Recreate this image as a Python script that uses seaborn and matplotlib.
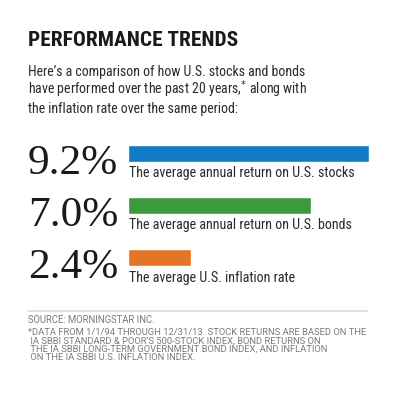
import matplotlib
matplotlib.use('Agg')
import pandas as pd
import seaborn as sns
from matplotlib import pyplot as plt


values = [9.2, 7.0, 2.4]
value_labels = ['9.2%', '7.0%', '2.4%']
series = ['stocks', 'bonds', 'inflation']
descriptions = [
    'The average annual return on U.S. stocks',
    'The average annual return on U.S. bonds',
    'The average U.S. inflation rate',
]
colors = ['#0f7bc4', '#3b9a3c', '#e57526']

title = 'PERFORMANCE TRENDS'
intro = [
    "Here\u2019s a comparison of how U.S. stocks and bonds",
    "have performed over the past 20 years,$^{*}$ along with",
    "the inflation rate over the same period:",
]
source = 'SOURCE: MORNINGSTAR INC.'
footnote = [
    '*DATA FROM 1/1/94 THROUGH 12/31/13. STOCK RETURNS ARE BASED ON THE',
    ' IA SBBI STANDARD & POOR\u2019S 500-STOCK INDEX, BOND RETURNS ON',
    ' THE IA SBBI LONG-TERM GOVERNMENT BOND INDEX, AND INFLATION',
    ' ON THE IA SBBI U.S. INFLATION INDEX.',
]

W, H = 400, 399

sns.set_theme(style='white')
narrow = ['Roboto Condensed', 'Liberation Sans Narrow', 'Liberation Sans', 'DejaVu Sans']
plt.rcParams['font.family'] = narrow
small = ['Roboto', 'Liberation Sans', 'DejaVu Sans']


def fx(x):
    return x / W


def fy(y):
    return 1 - y / H


fig = plt.figure(figsize=(W / 100, H / 100), dpi=100)
fig.patch.set_facecolor('white')

# bars: zero at x=128px, 26.2px per percent, rows 52px apart
ax = fig.add_axes([fx(128), fy(127.5 + 156), 262 / W, 156 / H])
df = pd.DataFrame({'series': series, 'value': values})
sns.barplot(data=df, x='value', y='series', hue='series', palette=colors,
            orient='h', width=0.32, legend=False, ax=ax, saturation=1)
ax.set_xlim(0, 10)
ax.set_ylim(2.5, -0.5)
ax.axis('off')

# groups of texts and the px width their first line has in the reference
fits = []

t = fig.text(fx(28), fy(46), title, fontsize=16, fontweight='bold',
             color='#1a1a1a', va='baseline')
fits.append(([t], 210))

lines = [fig.text(fx(28), fy(76 + i * 18.5), line, fontsize=10.2,
                  color='#2a2a2a', va='baseline') for i, line in enumerate(intro)]
fits.append((lines, 277))

nums = [fig.text(fx(28), fy(174 + i * 52), value_labels[i], fontsize=29,
                 family=['Liberation Serif', 'DejaVu Serif'], color='#1a1a1a',
                 va='baseline') for i in range(len(values))]
fits.append((nums, 90))

desc = [fig.text(fx(129), fy(177 + i * 52.5), descriptions[i], fontsize=10.2,
                 color='#2a2a2a', va='baseline') for i in range(len(values))]
fits.append((desc, 224))

fig.add_artist(plt.Line2D([fx(28), fx(367)], [fy(311), fy(311)],
                          color='#dadada', lw=1.2))
src = fig.text(fx(28), fy(323), source, fontsize=5.8, family=small,
               color='#7a7a7a', va='baseline')
fits.append(([src], 127))
notes = [fig.text(fx(28), fy(335 + i * 8.4), line, fontsize=5.8, family=small,
                  color='#7a7a7a', va='baseline') for i, line in enumerate(footnote)]
fits.append((notes, 334))

# scale each group so its first line spans the width seen in the reference
fig.canvas.draw()
renderer = fig.canvas.get_renderer()
for group, target in fits:
    w = group[0].get_window_extent(renderer).width
    size = group[0].get_fontsize() * target / w
    for g in group:
        g.set_fontsize(size)

fig.savefig('out.png', dpi=100, facecolor='white')
